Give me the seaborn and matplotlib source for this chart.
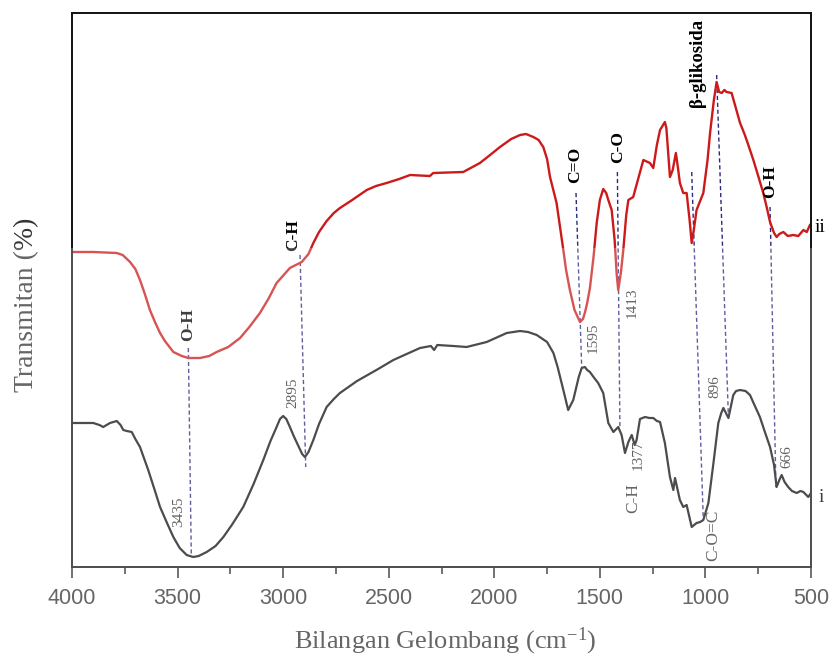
import numpy as np
import pandas as pd
import matplotlib
matplotlib.use("Agg")
import matplotlib.pyplot as plt
from matplotlib.patches import Rectangle
import seaborn as sns

# ---------------- data (arbitrary transmittance units) ----------------
wn_ii = [4000, 3900, 3788, 3760, 3725, 3700, 3678, 3655, 3631, 3605, 3583, 3560,
         3520, 3480, 3449, 3394, 3350, 3315, 3260, 3204, 3160, 3110, 3070, 3031,
         2968, 2912, 2880, 2857, 2830, 2794, 2760, 2731, 2680, 2604, 2560, 2510,
         2450, 2399, 2305, 2289, 2147, 2068, 2020, 1973, 1920, 1878, 1850, 1815,
         1790, 1768, 1750, 1736, 1705, 1673, 1660, 1642, 1620, 1605, 1594, 1580,
         1570, 1560, 1547, 1530, 1515, 1500, 1484, 1470, 1460, 1444, 1430, 1420,
         1413, 1400, 1389, 1375, 1365, 1342, 1320, 1294, 1263, 1247, 1230, 1215,
         1192, 1185, 1168, 1155, 1140, 1130, 1121, 1105, 1089, 1075, 1065, 1055,
         1042, 1010, 990, 978, 960, 947, 935, 923, 910, 900, 876, 860, 836, 815,
         800, 773, 750, 726, 710, 694, 675, 663, 650, 631, 610, 584, 560, 536,
         520, 505, 500]
t_ii = [315, 315, 314, 312, 305, 298, 287, 273, 257, 244, 234, 226,
        215, 211, 209, 209, 211, 215, 220, 229, 240, 254, 268, 284,
        299, 305, 313, 324, 335, 346, 354, 359, 366, 377, 381, 384,
        388, 392, 391, 394, 395, 404, 412, 420, 428, 432, 433, 430,
        427, 420, 408, 390, 364, 317, 297, 277, 257, 250, 245, 248,
        255, 264, 279, 310, 344, 367, 378, 374, 367, 357, 327, 292,
        277, 295, 317, 352, 367, 370, 387, 407, 404, 399, 422, 437,
        445, 439, 390, 397, 414, 399, 384, 374, 374, 347, 324, 337,
        357, 374, 407, 434, 467, 485, 475, 474, 477, 475, 474, 462, 444, 433,
        424, 407, 391, 374, 360, 345, 334, 330, 333, 335, 331, 332, 331, 337,
        335, 342, 343]

wn_i = [4000, 3950, 3899, 3870, 3852, 3820, 3788, 3770, 3757, 3740, 3717, 3700,
        3678, 3639, 3610, 3583, 3550, 3520, 3490, 3457, 3426, 3400, 3362, 3320,
        3283, 3240, 3189, 3140, 3094, 3060, 3031, 3015, 3000, 2985, 2968, 2950,
        2930, 2910, 2897, 2880, 2857, 2830, 2794, 2760, 2731, 2650, 2550, 2478,
        2352, 2300, 2285, 2270, 2194, 2131, 2036, 1941, 1878, 1840, 1799, 1750,
        1720, 1700, 1673, 1650, 1626, 1600, 1586, 1571, 1560, 1547, 1530, 1508,
        1484, 1460, 1436, 1413, 1397, 1381, 1365, 1349, 1335, 1326, 1310, 1286,
        1265, 1247, 1230, 1215, 1192, 1168, 1152, 1144, 1121, 1105, 1089, 1065,
        1042, 1025, 1010, 986, 962, 950, 939, 925, 915, 891, 868, 855, 836, 810,
        789, 770, 742, 720, 694, 675, 663, 650, 639, 625, 608, 590, 568, 550,
        536, 513, 500]
t_i = [144, 144, 144, 142, 140, 144, 146, 142, 137, 136, 135, 128,
       120, 97, 78, 60, 44, 30, 19, 12, 10, 11, 15, 21,
       30, 43, 60, 83, 107, 126, 140, 148, 151, 148, 140, 131,
       122, 113, 110, 115, 127, 143, 160, 168, 174, 186, 198, 207,
       219, 221, 217, 222, 221, 220, 225, 234, 236, 235, 232, 225,
       214, 200, 177, 157, 167, 190, 199, 200, 197, 195, 190, 184,
       174, 144, 135, 140, 132, 114, 125, 132, 122, 127, 148, 150,
       149, 149, 146, 145, 124, 90, 77, 89, 67, 60, 62, 40,
       44, 45, 47, 64, 104, 125, 144, 154, 159, 149, 172, 176, 177, 176,
       172, 163, 150, 136, 120, 102, 80, 87, 92, 85, 80, 76, 74, 76,
       75, 70, 74]

tick_vals = [4000, 3500, 3000, 2500, 2000, 1500, 1000, 500]
tick_labels = ["4000", "3500", "3000", "2500", "2000", "1500", "1000", "500"]
minor_vals = [3750, 3250, 2750, 2250, 1750, 1250, 750]

# dashed guide lines: (wn_top, t_top, wn_bottom, t_bottom)
guide_lines = [
    (3449, 219, 3435, 12),
    (2920, 312, 2893, 100),
    (1613, 374, 1586, 200),
    (1417, 395, 1405, 140),
    (1065, 395, 1010, 47),
    (947, 492, 891, 149),
    (694, 360, 666, 80),
]
# band labels (text, wn, t)
bold_labels = [("O-H", 3451, 242), ("C-H", 2952, 332), ("C=O", 1618, 402),
               ("C-O", 1413, 420), ("β-glikosida", 1038, 504), ("O-H", 694, 385)]
num_labels = [("3435", 3497, 55), ("2895", 2952, 174), ("1595", 1531, 229),
              ("1413", 1345, 264), ("1377", 1318, 112), ("896", 955, 180),
              ("666", 615, 110)]
low_labels = [("C-H", 1342, 69), ("C-O=C", 963, 32)]
series_labels = [("ii", 481, 339), ("i", 462, 69)]

# ---------------- style ----------------
sns.set_style("ticks")
plt.rcParams['font.family'] = ['Liberation Serif', 'DejaVu Serif']
plt.rcParams['mathtext.fontset'] = 'custom'
plt.rcParams['mathtext.rm'] = 'Liberation Serif'
plt.rcParams['mathtext.it'] = 'Liberation Serif:italic'

fig = plt.figure(figsize=(8.32, 6.6), dpi=100)
ax = fig.add_axes([72/832, 1 - 567/660, (811 - 72)/832, (567 - 13)/660])

df_ii = pd.DataFrame({"Bilangan": wn_ii, "T": t_ii})
df_i = pd.DataFrame({"Bilangan": wn_i, "T": t_i})
sns.lineplot(data=df_ii, x="Bilangan", y="T", ax=ax, color="#cc1a1a", lw=1.7,
             estimator=None, sort=False)
sns.lineplot(data=df_i, x="Bilangan", y="T", ax=ax, color="#111111", lw=1.6,
             estimator=None, sort=False)

for x0, y0, x1, y1 in guide_lines:
    ax.plot([x0, x1], [y0, y1], color="#2a2a80", lw=1.0, ls=(0, (3, 2)), zorder=1)

for s, x, y in bold_labels:
    ax.text(x, y, s, rotation=90, ha="center", va="center", fontsize=12.5 if len(s) < 5 else 13.5,
            fontweight="bold", color="black", clip_on=False)
for s, x, y in num_labels:
    ax.text(x, y, s, rotation=90, ha="center", va="center", fontsize=11, color="#303030")
for s, x, y in low_labels:
    ax.text(x, y, s, rotation=90, ha="center", va="center", fontsize=12.5,
            color="#333333", clip_on=False)
for s, x, y in series_labels:
    ax.text(x, y, s, ha="left", va="center", fontsize=14, color="black", clip_on=False)

ax.set_xlim(4000, 500)
ax.set_ylim(0, 554)
ax.set_xticks(tick_vals)
ax.set_xticklabels(tick_labels, fontfamily="Liberation Sans", fontsize=15.5, color="#333333")
ax.set_xticks(minor_vals, minor=True)
ax.tick_params(axis="x", which="major", direction="out", length=8, width=1.2, pad=7, color="#222222")
ax.tick_params(axis="x", which="minor", direction="out", length=5, width=1.2, color="#222222")
ax.set_yticks([])
for sp in ax.spines.values():
    sp.set_visible(True)
    sp.set_color("#111111")
    sp.set_linewidth(1.4)

ax.set_xlabel("Bilangan Gelombang (cm$^{-1}$)", fontsize=19, color="#333333")
ax.xaxis.set_label_coords(0.505, -0.106)
ax.set_ylabel("Transmitan (%)", fontsize=20, color="#333333")
ax.yaxis.set_label_coords(-0.044, 0.473)

# light veil over lower part of the image (as in the scanned figure)
fig.add_artist(Rectangle((0, 0), 1, (660 - 248)/660, transform=fig.transFigure,
                         facecolor="white", edgecolor="none", alpha=0.25, zorder=5))

fig.savefig("out.png", dpi=100)
